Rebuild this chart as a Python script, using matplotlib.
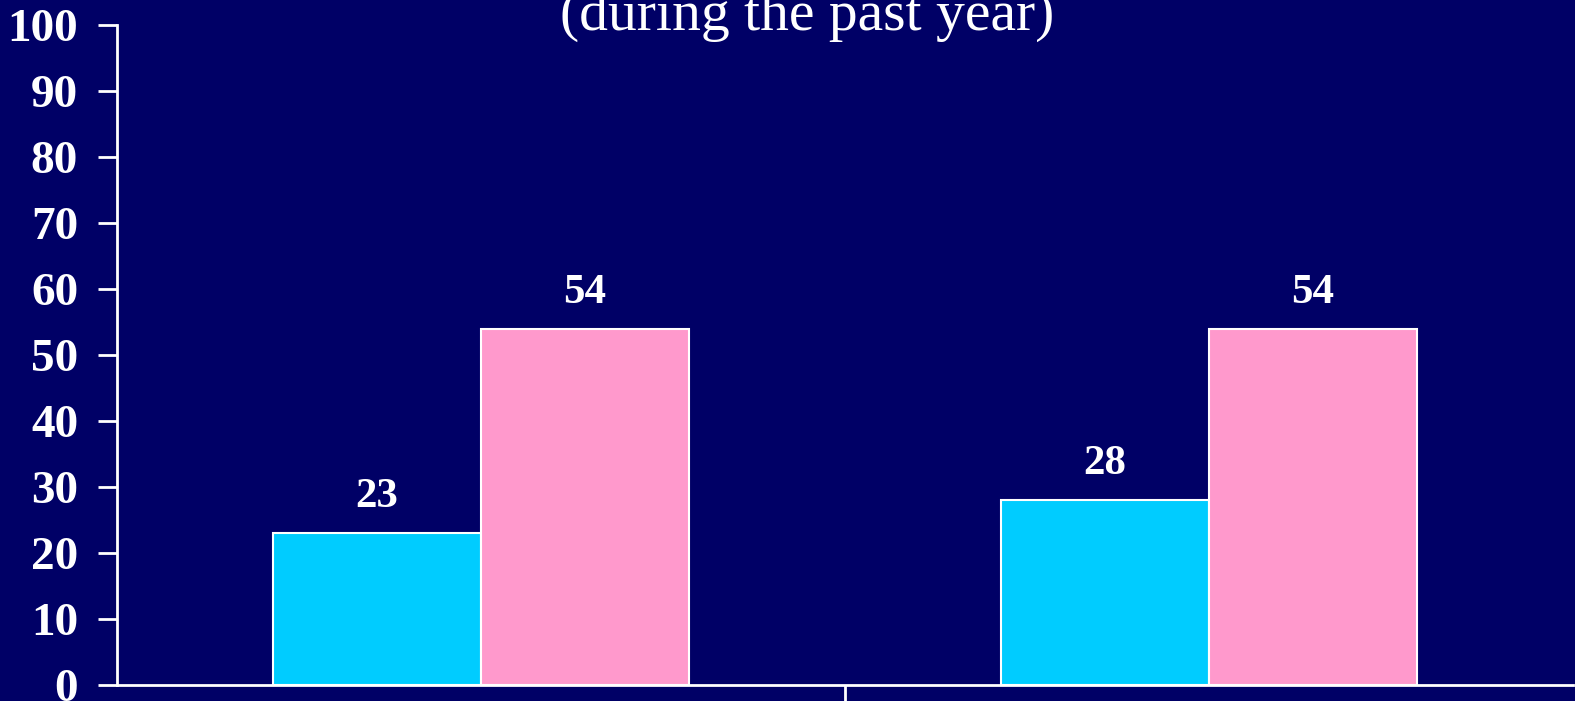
import numpy as np
import matplotlib.pyplot as plt

# data
groups = ['Group 1', 'Group 2']
series_a = [23, 28]   # cyan bars
series_b = [54, 54]   # pink bars
yticks = list(range(0, 101, 10))
title = '(during the past year)'

bg = '#000066'
cyan = '#00CCFF'
pink = '#FF99CC'

plt.rcParams['font.family'] = ['Liberation Serif', 'DejaVu Serif']

fig = plt.figure(figsize=(15.75, 7.01), dpi=100, facecolor=bg)
ax = fig.add_axes([117 / 1575, 16 / 701, (1573 - 117) / 1575, 660 / 701])
ax.set_facecolor(bg)

x = np.arange(len(groups))
w = 0.286
bars_a = ax.bar(x - w / 2, series_a, w, color=cyan, edgecolor='white', linewidth=1.5)
bars_b = ax.bar(x + w / 2, series_b, w, color=pink, edgecolor='white', linewidth=1.5)

# value labels above bars
for bars, vals in ((bars_a, series_a), (bars_b, series_b)):
    for b, v in zip(bars, vals):
        ax.text(b.get_x() + b.get_width() / 2, v + 3.9, str(v), ha='center', va='baseline',
                color='white', fontsize=31, fontweight='bold')

ax.set_xlim(-0.5, 1.5)
ax.set_ylim(0, 100)
ax.set_yticks(yticks)
ax.set_yticklabels([str(t) for t in yticks], fontsize=34, fontweight='bold', color='white')
ax.set_xticks([0.5])
ax.set_xticklabels([])
ax.tick_params(axis='y', colors='white', length=14, width=2, pad=14)
ax.tick_params(axis='x', colors='white', length=16, width=2, labelbottom=False)

for s in ('top', 'right'):
    ax.spines[s].set_visible(False)
for s in ('left', 'bottom'):
    ax.spines[s].set_color('white')
    ax.spines[s].set_linewidth(2)

# title sits partly above the top edge, as in the reference
fig.text(807 / 1575, (701 - 30) / 701, title, ha='center', va='baseline',
         color='white', fontsize=41.5)

fig.savefig('out.png', dpi=100, facecolor=bg)
